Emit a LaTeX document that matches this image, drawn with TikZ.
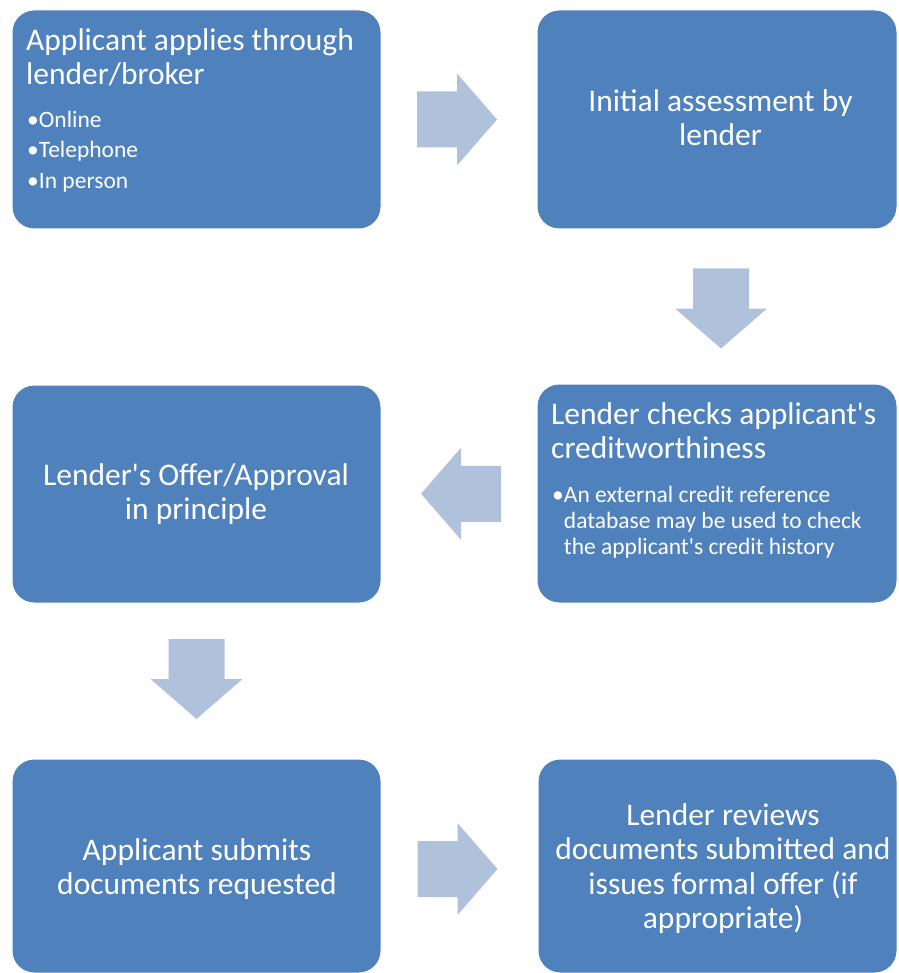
\documentclass[tikz,border=0pt]{standalone}
\usepackage{fontspec}
\setmainfont{Carlito}[Ligatures=TeXOff]
\usetikzlibrary{calc}
\definecolor{boxblue}{RGB}{79,129,189}
\definecolor{arrowblue}{RGB}{176,193,220}
\tikzset{
  box/.style={rectangle, rounded corners=22pt, fill=boxblue, draw=white, line width=1pt,
    minimum width=369pt, minimum height=219pt, inner sep=0pt},
  big/.style={text=white, inner sep=0pt, font=\fontsize{31.5}{34.5}\selectfont},
  small/.style={text=white, inner sep=0pt, font=\fontsize{23.5}{26}\selectfont},
  blockarrow/.style={fill=arrowblue},
}
\newcommand\flowarrow[2]{\fill[blockarrow, shift={#1}, rotate=#2]
  (-40,-28) -- (0,-28) -- (0,-46) -- (40,0) -- (0,46) -- (0,28) -- (-40,28) -- cycle;}
\begin{document}
\begin{tikzpicture}[x=1pt,y=1pt]
\useasboundingbox (0,0) rectangle (898,-973);
% boxes
\node[box] (a) at (196.5,-119.5) {};
\node[box, minimum width=360pt] (b) at (717,-119.5) {};
\node[box, minimum width=360pt] (c) at (717,-493.5) {};
\node[box, minimum height=218pt] (d) at (196.5,-494) {};
\node[box, minimum height=214pt] (e) at (196.5,-866) {};
\node[box, minimum width=359pt, minimum height=214pt] (f) at (717.5,-866) {};
% texts
\node[big, align=left, anchor=north west] (at) at (26,-28) {Applicant applies through\\lender/broker};
\node[small, align=left, anchor=north west, font=\fontsize{23.5}{30.5}\selectfont] (ab) at (27,-110.5) {•Online\\•Telephone\\•In person};
\node[big, align=center, anchor=north] (bt) at (720.5,-89) {Initial assessment by\\lender};
\node[big, align=left, anchor=north west] (ct) at (551,-402) {Lender checks applicant's\\creditworthiness};
\node[small, align=left, anchor=north west] (cb) at (552,-485.5) {•An external credit reference\\\phantom{•}database may be used to check\\\phantom{•}the applicant's credit history};
\node[big, align=center, anchor=north] (dt) at (196,-463) {Lender's Offer/Approval\\in principle};
\node[big, align=center, anchor=north] (et) at (197,-838) {Applicant submits\\documents requested};
\node[big, align=center, anchor=north] (ft) at (723,-803) {Lender reviews\\documents submitted and\\issues formal offer (if\\appropriate)};
% block arrows
\flowarrow{($(a.east)!0.5!(b.west)+(-2,0)$)}{0}
\flowarrow{($(b.south)!0.5!(c.north)+(4,-2)$)}{-90}
\flowarrow{($(d.east)!0.5!(c.west)+(2,0)$)}{180}
\flowarrow{($(d.south)!0.5!(e.north)+(0,2)$)}{-90}
\flowarrow{($(e.east)!0.5!(f.west)+(-2,-3)$)}{0}
\end{tikzpicture}
\end{document}
